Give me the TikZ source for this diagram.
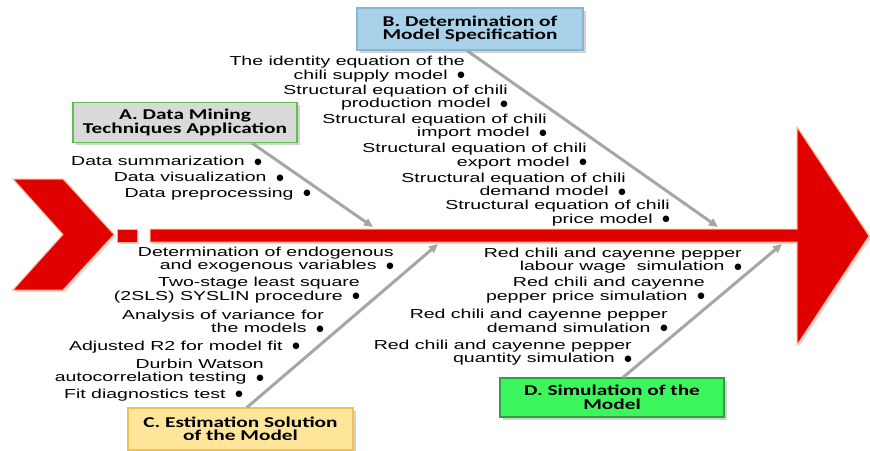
\documentclass[tikz,border=0pt]{standalone}
\usepackage{fontspec}
\setmainfont{Liberation Sans}[FakeStretch=1.5]
\newfontfamily\titlefont{Carlito}[FakeStretch=1.42]
\newfontfamily\bulfont{DejaVu Sans}
\usetikzlibrary{arrows.meta,shadows}
\definecolor{chili}{HTML}{E00000}
\definecolor{chiliedge}{HTML}{F8B38F}
\definecolor{arrgray}{HTML}{A6A6A6}
\definecolor{afill}{HTML}{D9D9D9}
\definecolor{aedge}{HTML}{5FBF4F}
\definecolor{bfill}{HTML}{A8D2EA}
\definecolor{bedge}{HTML}{8AB4CF}
\definecolor{cfill}{HTML}{FFE59A}
\definecolor{cedge}{HTML}{F2C14E}
\definecolor{dfill}{HTML}{3DF55C}
\definecolor{dedge}{HTML}{2FA040}
\tikzset{
  redshape/.style={fill=chili, draw=chiliedge, line width=1pt,
    drop shadow={shadow xshift=2pt, shadow yshift=-2pt, opacity=0.25}},
  titlebox/.style={inner sep=0pt, align=center, line width=1.2pt,
    minimum width=224pt, minimum height=40pt,
    font=\titlefont\bfseries\fontsize{15}{13.5}\selectfont,
    drop shadow={shadow xshift=2.5pt, shadow yshift=-2.5pt, opacity=0.35}},
  item/.style={inner sep=0pt, anchor=east, align=right,
    font=\fontsize{13}{13.5}\selectfont},
  bonearrow/.style={draw=arrgray, line width=3pt,
    -{Triangle[length=9pt,width=8pt]}}
}
\newcommand{\bul}{\hspace{0.75em}\raisebox{1.6pt}{\bulfont\fontsize{8.5}{8.5}\selectfont ●}}
\begin{document}
\begin{tikzpicture}[x=1pt,y=-1pt]
\useasboundingbox (0,0) rectangle (870,450);
% red fish skeleton
\path[redshape] (13,179) -- (63,179) -- (114,234.5) -- (63,290) -- (13,290) -- (63,234.5) -- cycle;
\path[redshape] (117,229) rectangle (137,242);
\path[redshape] (150,229) -- (797,229) -- (797,127) -- (869,236) -- (797,345) -- (797,242) -- (150,242) -- cycle;

% category boxes
\node[titlebox, fill=afill, draw=aedge] (A) at (185,122.5) {A. Data Mining\\Techniques Application};
\node[titlebox, fill=bfill, draw=bedge, minimum width=226pt, minimum height=42pt] (B) at (470,29) {B. Determination of\\Model Specification};
\node[titlebox, fill=cfill, draw=cedge, minimum width=225pt, minimum height=42pt] (C) at (240.5,429) {C. Estimation Solution\\of the Model};
\node[titlebox, fill=dfill, draw=dedge, minimum height=39pt] (D) at (612,397.5) {D. Simulation of the\\Model};

% arrow ends on the spine
\coordinate (tA) at (373,227);
\coordinate (tB) at (718,227);
\coordinate (tC) at (438,244);
\coordinate (tD) at (782,244);
\coordinate (xA) at (252,0);
\coordinate (xB) at (467,0);
\coordinate (xC) at (247,0);
\coordinate (xD) at (623,0);
\draw[bonearrow] (A.south -| xA) -- (tA);
\draw[bonearrow] (B.south -| xB) -- (tB);
\draw[bonearrow] (C.north -| xC) -- (tC);
\draw[bonearrow] (D.north -| xD) -- (tD);

% A items
\node[item] (a1) at (262,161) {Data summarization\bul};
\node[item] (a2) at (284,177) {Data visualization\bul};
\node[item] (a3) at (311,194) {Data preprocessing\bul};

% B items
\node[item] (b1) at (465,69) {The identity equation of the\\chili supply model\bul};
\node[item] (b2) at (508,97.5) {Structural equation of chili\\production model\bul};
\node[item] (b3) at (547,126.5) {Structural equation of chili\\import model\bul};
\node[item] (b4) at (587,156) {Structural equation of chili\\export model\bul};
\node[item] (b5) at (626,184.5) {Structural equation of chili\\demand model\bul};
\node[item] (b6) at (670,213) {Structural equation of chili\\price model\bul};

% C items
\node[item] (c1) at (394,259.5) {Determination of endogenous\\and exogenous variables\bul};
\node[item] (c2) at (360,290) {Two-stage least square\\(2SLS) SYSLIN procedure\bul};
\node[item] (c3) at (324,321.5) {Analysis of variance for\\the models\bul};
\node[item] (c4) at (300,347) {Adjusted R2 for model fit\bul};
\node[item] (c5) at (264,371.5) {Durbin Watson\\autocorrelation testing\bul};
\node[item] (c6) at (243,395) {Fit diagnostics test\bul};

% D items
\node[item] (d1) at (742,260.5) {Red chili and cayenne pepper\\labour wage\ \ simulation\bul};
\node[item] (d2) at (705,290) {Red chili and cayenne\\pepper price simulation\bul};
\node[item] (d3) at (668,321) {Red chili and cayenne pepper\\demand simulation\bul};
\node[item] (d4) at (632,352.5) {Red chili and cayenne pepper\\quantity simulation\bul};
\end{tikzpicture}
\end{document}
